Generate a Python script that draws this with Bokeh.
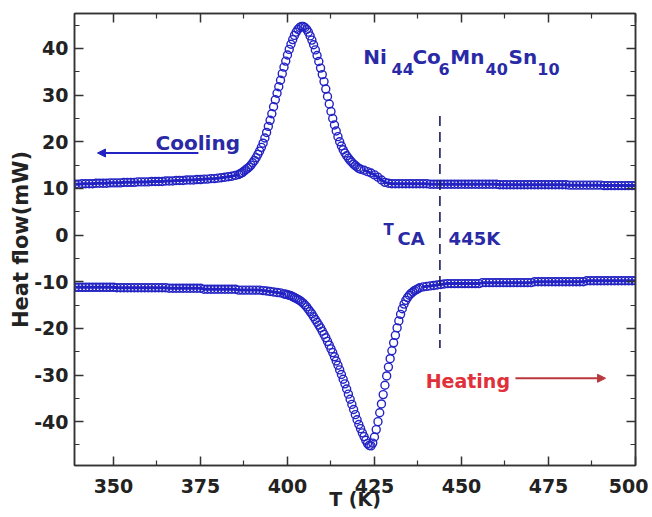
from bokeh.plotting import figure
from bokeh.models import (ColumnDataSource, Range1d, LinearAxis, FixedTicker,
                          Label, Arrow, NormalHead)
from bokeh.embed import file_html
from bokeh.resources import INLINE

# ---------------- data ----------------
# Cooling run (upper curve), temperature in K and heat flow in mW
cool_T1 = [339, 340, 341, 342, 343, 344, 345, 346, 347, 348,
           349, 350, 351, 352, 353, 354, 355, 356, 357, 358,
           359, 360, 361, 362, 363, 364, 365, 366, 367, 368,
           369, 370, 371, 372, 373, 374, 375, 376, 377, 378,
           379, 380, 381, 382, 383, 384, 385, 386]
cool_Q1 = [10.9, 10.9, 11.0, 11.0, 11.0, 11.0, 11.1, 11.1, 11.1, 11.1,
           11.2, 11.2, 11.2, 11.2, 11.3, 11.3, 11.3, 11.3, 11.4, 11.4,
           11.4, 11.4, 11.5, 11.5, 11.5, 11.5, 11.6, 11.6, 11.6, 11.7,
           11.7, 11.7, 11.8, 11.8, 11.8, 11.9, 11.9, 12.0, 12.0, 12.1,
           12.1, 12.2, 12.3, 12.4, 12.5, 12.6, 12.8, 13.0]
cool_T2 = [386.5, 387, 387.5, 388, 388.5, 389, 389.5, 390, 390.5, 391,
           391.5, 392, 392.5, 393, 393.5, 394, 394.5, 395, 395.5, 396,
           396.5, 397, 397.5, 398, 398.5, 399, 399.5, 400, 400.5, 401,
           401.5, 402, 402.5, 403, 403.5, 404, 404.5, 405, 405.5, 406,
           406.5, 407, 407.5, 408, 408.5, 409, 409.5, 410, 410.5, 411,
           411.5, 412, 412.5, 413, 413.5, 414, 414.5, 415, 415.5, 416,
           416.5, 417, 417.5, 418, 418.5, 419, 419.5, 420, 420.5, 421]
cool_Q2 = [13.2, 13.4, 13.7, 14.0, 14.3, 14.6, 15.0, 15.5, 16.0, 16.6,
           17.3, 18.0, 18.8, 19.7, 20.8, 22.0, 23.3, 24.6, 26.0, 27.5,
           29.0, 30.4, 31.8, 33.2, 34.6, 36.0, 37.3, 38.6, 39.8, 40.9,
           41.9, 42.8, 43.5, 44.1, 44.5, 44.7, 44.7, 44.5, 44.1, 43.5,
           42.7, 41.8, 40.8, 39.7, 38.5, 37.2, 35.8, 34.4, 32.9, 31.3,
           29.7, 28.1, 26.5, 25.0, 23.6, 22.3, 21.1, 20.0, 19.1, 18.3,
           17.6, 17.0, 16.5, 16.0, 15.6, 15.2, 14.9, 14.6, 14.3, 14.1]
cool_T3 = [422, 423, 424, 425, 426, 427, 428, 429, 430,
           431, 432, 433, 434, 435, 436, 437, 438, 439, 440,
           441, 442, 443, 444, 445, 446, 447, 448, 449, 450,
           451, 452, 453, 454, 455, 456, 457, 458, 459, 460,
           461, 462, 463, 464, 465, 466, 467, 468, 469, 470,
           471, 472, 473, 474, 475, 476, 477, 478, 479, 480,
           481, 482, 483, 484, 485, 486, 487, 488, 489, 490,
           491, 492, 493, 494, 495, 496, 497, 498, 499, 500]
cool_Q3 = [13.9, 13.6, 13.3, 12.9, 12.4, 11.8, 11.3, 11.1, 11.0,
           11.0, 11.0, 11.0, 11.0, 11.0, 11.0, 11.0, 11.0, 11.0, 11.0,
           10.9, 10.9, 10.9, 10.9, 10.9, 10.9, 10.9, 10.9, 10.9, 10.9,
           10.9, 10.9, 10.9, 10.9, 10.9, 10.9, 10.9, 10.9, 10.9, 10.9,
           10.8, 10.8, 10.8, 10.8, 10.8, 10.8, 10.8, 10.8, 10.8, 10.8,
           10.8, 10.8, 10.8, 10.8, 10.8, 10.8, 10.8, 10.8, 10.8, 10.8,
           10.7, 10.7, 10.7, 10.7, 10.7, 10.7, 10.7, 10.7, 10.7, 10.7,
           10.6, 10.6, 10.6, 10.6, 10.6, 10.6, 10.6, 10.6, 10.6, 10.6]

# Heating run (lower curve)
heat_T1 = [339, 340, 341, 342, 343, 344, 345, 346, 347, 348,
           349, 350, 351, 352, 353, 354, 355, 356, 357, 358,
           359, 360, 361, 362, 363, 364, 365, 366, 367, 368,
           369, 370, 371, 372, 373, 374, 375, 376, 377, 378,
           379, 380, 381, 382, 383, 384, 385, 386, 387, 388,
           389, 390, 391, 392, 393, 394, 395, 396, 397, 398, 399]
heat_Q1 = [-11.2, -11.2, -11.2, -11.2, -11.2, -11.2, -11.2, -11.2, -11.2, -11.2,
           -11.2, -11.2, -11.3, -11.3, -11.3, -11.3, -11.3, -11.3, -11.3, -11.3,
           -11.3, -11.3, -11.3, -11.3, -11.3, -11.3, -11.3, -11.4, -11.4, -11.4,
           -11.4, -11.4, -11.4, -11.4, -11.4, -11.4, -11.4, -11.6, -11.6, -11.6,
           -11.6, -11.6, -11.6, -11.6, -11.6, -11.6, -11.6, -11.8, -11.8, -11.8,
           -11.8, -11.8, -11.8, -11.8, -11.9, -12.0, -12.1, -12.2, -12.3, -12.4, -12.6]
heat_T2 = [399.5, 400, 400.5, 401, 401.5, 402, 402.5, 403, 403.5, 404,
           404.5, 405, 405.5, 406, 406.5, 407, 407.5, 408, 408.5, 409,
           409.5, 410, 410.5, 411, 411.5, 412, 412.5, 413, 413.5, 414,
           414.5, 415, 415.5, 416, 416.5, 417, 417.5, 418, 418.5, 419,
           419.5, 420, 420.5, 421, 421.5, 422, 422.5, 423, 423.5, 424,
           424.5, 425, 425.5, 426, 426.5, 427, 427.5, 428, 428.5, 429,
           429.5, 430, 430.5, 431, 431.5, 432, 432.5, 433, 433.5, 434,
           434.5, 435, 435.5, 436, 436.5, 437, 437.5, 438]
heat_Q2 = [-12.7, -12.8, -12.9, -13.0, -13.2, -13.4, -13.6, -13.8, -14.0, -14.3,
           -14.6, -15.0, -15.4, -15.9, -16.4, -16.9, -17.5, -18.1, -18.7, -19.3,
           -19.9, -20.6, -21.3, -22.0, -22.8, -23.6, -24.4, -25.2, -26.1, -27.0,
           -27.9, -28.9, -29.9, -30.9, -31.9, -33.0, -34.1, -35.2, -36.3, -37.4,
           -38.5, -39.6, -40.6, -41.5, -42.4, -43.2, -44.0, -44.7, -45.1, -45.2,
           -44.6, -43.3, -41.7, -40.0, -38.1, -36.2, -34.2, -32.2, -30.2, -28.3,
           -26.5, -24.8, -23.1, -21.5, -19.9, -18.4, -17.0, -15.8, -14.8, -14.0,
           -13.4, -12.9, -12.5, -12.2, -11.9, -11.7, -11.5, -11.3]
heat_T3 = [439, 440, 441, 442, 443, 444, 445,
           446, 447, 448, 449, 450, 451, 452, 453, 454, 455,
           456, 457, 458, 459, 460, 461, 462, 463, 464, 465, 466, 467, 468, 469, 470,
           471, 472, 473, 474, 475, 476, 477, 478, 479, 480, 481, 482, 483, 484, 485,
           486, 487, 488, 489, 490, 491, 492, 493, 494, 495, 496, 497, 498, 499, 500]
heat_Q3 = [-11.1, -11.0, -10.9, -10.8, -10.7, -10.6, -10.5,
           -10.4, -10.4, -10.4, -10.4, -10.4, -10.4, -10.4, -10.4, -10.4, -10.4,
           -10.2, -10.2, -10.2, -10.2, -10.2, -10.2, -10.2, -10.2, -10.2, -10.2,
           -10.2, -10.2, -10.2, -10.2, -10.2,
           -10.0, -10.0, -10.0, -10.0, -10.0, -10.0, -10.0, -10.0, -10.0, -10.0,
           -10.0, -10.0, -10.0, -10.0, -10.0,
           -9.8, -9.8, -9.8, -9.8, -9.8, -9.8, -9.8, -9.8, -9.8, -9.8,
           -9.8, -9.8, -9.8, -9.8, -9.8]

# axis ticks
x_ticks = [350, 375, 400, 425, 450, 475, 500]
x_minor = [337.5, 362.5, 387.5, 412.5, 437.5, 462.5, 487.5]
y_ticks = [-40, -30, -20, -10, 0, 10, 20, 30, 40]
y_minor = [-45, -35, -25, -15, -5, 5, 15, 25, 35, 45]

# transition temperature marker (dashed line) and its label
T_CA = 443.8
T_CA_span = [25.5, -24.2]

# ---------------- styling ----------------
FONT = "DejaVu Sans"
BLUE = "#2323c4"
TXT_BLUE = "#2a2aa6"
RED = "#e0303a"
DARK_RED = "#b8383c"
AX = "#333333"

p = figure(width=648, height=514,
           x_range=Range1d(338.8, 500), y_range=Range1d(-49.4, 47.5),
           output_backend="svg", toolbar_location=None,
           min_border_left=74, min_border_right=13,
           min_border_top=13, min_border_bottom=49)
p.xgrid.visible = False
p.ygrid.visible = False
p.outline_line_color = AX
p.outline_line_width = 1.5
p.background_fill_color = "white"
p.border_fill_color = "white"

cool_src = ColumnDataSource(dict(T=cool_T1 + cool_T2 + cool_T3,
                                 Q=cool_Q1 + cool_Q2 + cool_Q3))
heat_src = ColumnDataSource(dict(T=heat_T1 + heat_T2 + heat_T3,
                                 Q=heat_Q1 + heat_Q2 + heat_Q3))

# the densely sampled flat baselines read as a solid band
for xs, ys in ((cool_T1, cool_Q1), (cool_T3, cool_Q3),
               (heat_T1, heat_Q1), (heat_T3, heat_Q3)):
    p.line(xs, ys, line_color=BLUE, line_width=3)

for src in (cool_src, heat_src):
    p.scatter("T", "Q", source=src, marker="circle", size=8,
              fill_color=None, line_color=BLUE, line_width=1.4)

p.segment(x0=[T_CA], y0=[T_CA_span[0]], x1=[T_CA], y1=[T_CA_span[1]],
          line_color="#1c1c5c", line_width=1.6, line_dash="10 6")


def style_axis(ax, ticks, minor, show_labels=True):
    ax.ticker = FixedTicker(ticks=ticks, minor_ticks=minor)
    ax.axis_line_color = AX
    ax.axis_line_width = 1.5
    ax.major_tick_line_color = AX
    ax.minor_tick_line_color = AX
    ax.major_tick_line_width = 1.5
    ax.minor_tick_line_width = 1.2
    ax.major_tick_in = 9
    ax.major_tick_out = 0
    ax.minor_tick_in = 5
    ax.minor_tick_out = 0
    if show_labels:
        ax.major_label_overrides = {t: str(t) for t in ticks}
        ax.major_label_text_font = FONT
        ax.major_label_text_font_style = "bold"
        ax.major_label_text_font_size = "19px"
        ax.major_label_text_color = "#222222"
        ax.axis_label_text_font = FONT
        ax.axis_label_text_font_style = "bold"
        ax.axis_label_text_color = "#222222"
    else:
        ax.major_label_text_font_size = "0px"
        ax.major_label_text_color = None
        ax.major_label_standoff = 0


style_axis(p.xaxis[0], x_ticks, x_minor)
style_axis(p.yaxis[0], y_ticks, y_minor)
p.xaxis[0].axis_label = "T (K)"
p.xaxis[0].axis_label_text_font_size = "19px"
p.xaxis[0].major_label_standoff = 13
p.xaxis[0].axis_label_standoff = -8
p.yaxis[0].axis_label = "Heat flow(mW)"
p.yaxis[0].axis_label_text_font_size = "21px"
p.yaxis[0].major_label_standoff = 6
p.yaxis[0].axis_label_standoff = -2

top_ax = LinearAxis()
style_axis(top_ax, x_ticks, x_minor, show_labels=False)
p.add_layout(top_ax, "above")
right_ax = LinearAxis()
style_axis(right_ax, y_ticks, y_minor, show_labels=False)
p.add_layout(right_ax, "right")


def label(x, y, text, size, color):
    p.add_layout(Label(x=x, y=y, text=text, text_font=FONT,
                       text_font_style="bold", text_font_size=size,
                       text_color=color, text_align="left",
                       text_baseline="alphabetic"))


# Cooling annotation
label(362.1, 19.8, "Cooling", "20px", TXT_BLUE)
p.add_layout(Arrow(end=NormalHead(size=8, fill_color=BLUE, line_color=BLUE),
                   x_start=374.4, y_start=17.6, x_end=345.4, y_end=17.6,
                   line_color=BLUE, line_width=2))

# Heating annotation
label(439.7, -31.2, "Heating", "19px", RED)
p.add_layout(Arrow(end=NormalHead(size=8, fill_color=DARK_RED, line_color=DARK_RED),
                   x_start=465.5, y_start=-30.7, x_end=491.4, y_end=-30.7,
                   line_color=DARK_RED, line_width=2))

# Composition Ni44Co6Mn40Sn10
label(421.8, 38.1, "Ni", "20px", TXT_BLUE)
label(429.9, 35.7, "44", "16px", TXT_BLUE)
label(435.9, 38.1, "Co", "20px", TXT_BLUE)
label(443.4, 35.7, "6", "16px", TXT_BLUE)
label(446.8, 38.1, "Mn", "20px", TXT_BLUE)
label(456.9, 35.7, "40", "16px", TXT_BLUE)
label(463.5, 38.1, "Sn", "20px", TXT_BLUE)
label(471.8, 35.7, "10", "16px", TXT_BLUE)

# T_CA 445K
label(427.6, 1.0, "T", "15px", TXT_BLUE)
label(431.6, -0.75, "CA", "18px", TXT_BLUE)
label(446.3, -0.75, "445K", "18px", TXT_BLUE)

open("out.html", "w").write(file_html(p, INLINE))
